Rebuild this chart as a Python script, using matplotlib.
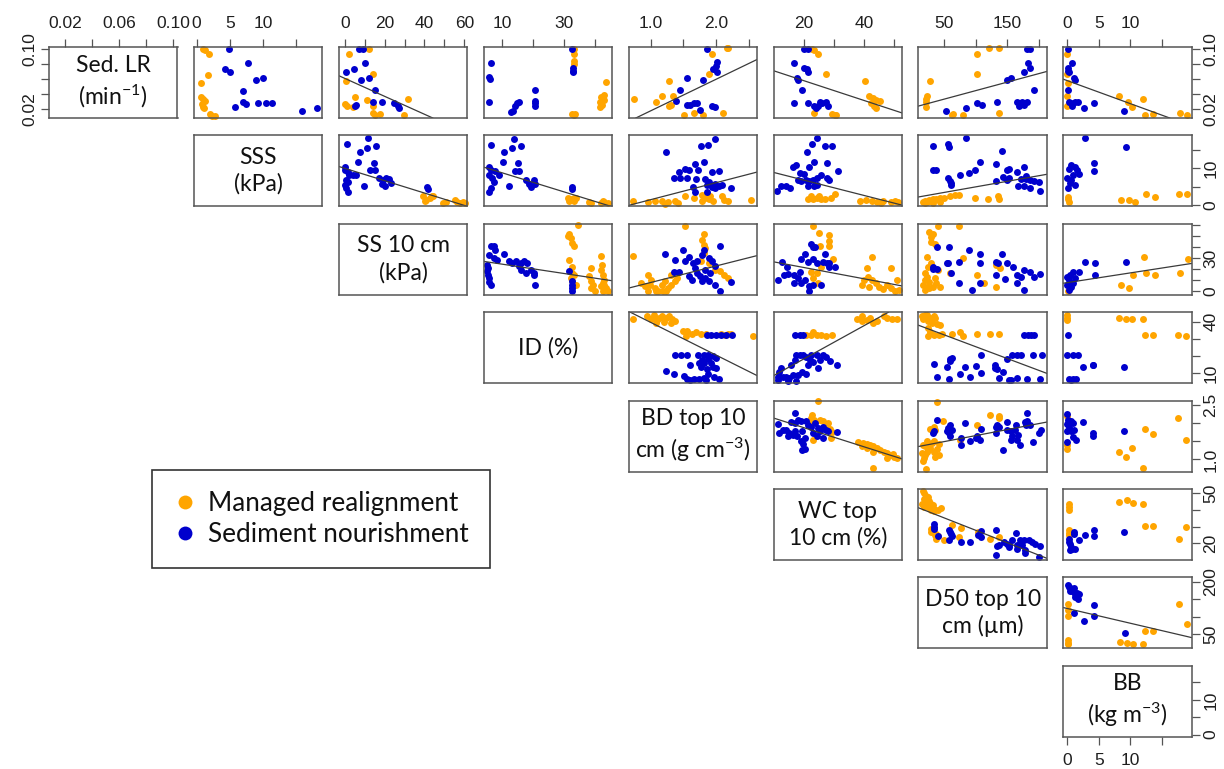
import matplotlib
matplotlib.use("Agg")
import matplotlib.pyplot as plt
from matplotlib.lines import Line2D

plt.rcParams["mathtext.fontset"] = "custom"
plt.rcParams["mathtext.rm"] = "Lato"
plt.rcParams["mathtext.default"] = "regular"
plt.rcParams["font.family"] = ["Liberation Sans", "DejaVu Sans"]

ORANGE = "#FFA500"
BLUE = "#0000CD"

# variables in the order of the pairs matrix
var_names = ["sedlr", "sss", "ss10", "id", "bd", "wc", "d50", "bb"]
var_labels = ["Sed. LR\n(min$^{-1}$)", "SSS\n(kPa)", "SS 10 cm\n(kPa)", "ID (%)",
              "BD top 10\ncm (g cm$^{-3}$)", "WC top\n10 cm (%)",
              "D50 top 10\ncm (\u00b5m)", "BB\n(kg m$^{-3}$)"]
var_ticks = [[0.02, 0.04, 0.06, 0.08, 0.10], [0, 5, 10, 15], [0, 10, 20, 30, 40, 50, 60],
             [10, 20, 30, 40], [1.0, 1.5, 2.0, 2.5], [20, 30, 40, 50],
             [50, 100, 150, 200], [0, 5, 10, 15]]
top_labels = [["0.02", "", "0.06", "", "0.10"], ["0", "5", "10", ""],
              ["0", "", "20", "", "40", "", "60"], ["10", "", "30", ""],
              ["1.0", "", "2.0", ""], ["20", "", "40", ""], ["50", "", "150", ""],
              ["0", "5", "10", ""]]
side_labels = [["0.02", "", "", "", "0.10"], ["0", "", "10", ""],
               ["0", "", "", "30", "", "", ""], ["10", "", "", "40"],
               ["1.0", "", "", "2.5"], ["20", "", "", "50"], ["50", "", "", "200"],
               ["0", "", "10", ""]]

# ---- row 0: Sed. LR ----
mr_sss_sedlr = [(0.95, 0.100), (1.3, 0.099), (1.8, 0.093), (1.7, 0.066), (0.6, 0.055), (0.7, 0.036), (1.0, 0.034), (1.3, 0.031), (0.8, 0.027), (0.9, 0.023), (1.1, 0.022), (2.0, 0.013), (2.3, 0.011), (2.7, 0.011)]
sn_sss_sedlr = [(4.8, 0.100), (7.8, 0.081), (4.2, 0.074), (5.0, 0.069), (8.9, 0.059), (10.0, 0.061), (7.0, 0.044), (7.0, 0.029), (7.5, 0.027), (9.2, 0.028), (10.5, 0.028), (11.3, 0.028), (5.7, 0.023), (15.8, 0.018), (18.1, 0.021)]
mr_ss10_sedlr = [(12.4, 0.100), (2.1, 0.093), (14.4, 0.067), (0.5, 0.057), (5.2, 0.036), (11.3, 0.032), (31.8, 0.033), (0.2, 0.027), (1.1, 0.024), (4.0, 0.023), (14.4, 0.024), (14.4, 0.015), (17.5, 0.014), (15.4, 0.012), (29.8, 0.012)]
sn_ss10_sedlr = [(7.2, 0.100), (9.3, 0.100), (10.3, 0.082), (0.7, 0.070), (4.6, 0.074), (7.9, 0.059), (12.4, 0.062), (15.4, 0.046), (14.4, 0.030), (18.5, 0.030), (24.6, 0.028), (26.7, 0.024), (27.3, 0.021), (5.2, 0.024), (5.6, 0.025)]
mr_id_sedlr = [(33.1, 0.100), (33.3, 0.093), (33.3, 0.084), (33.1, 0.080), (43.6, 0.056), (42.9, 0.039), (41.9, 0.036), (42.9, 0.032), (41.6, 0.030), (42.2, 0.025), (41.6, 0.023), (32.5, 0.013), (33.1, 0.012), (33.6, 0.014)]
sn_id_sedlr = [(32.5, 0.100), (6.4, 0.082), (32.9, 0.075), (32.9, 0.071), (32.9, 0.069), (5.8, 0.063), (6.0, 0.060), (20.5, 0.045), (20.5, 0.031), (20.5, 0.028), (20.5, 0.024), (15.6, 0.030), (14.9, 0.028), (14.3, 0.024), (13.6, 0.018), (13.0, 0.016), (5.8, 0.030)]
mr_bd_sedlr = [(0.745, 0.033), (1.08, 0.030), (1.17, 0.037), (1.28, 0.057), (1.28, 0.024), (1.32, 0.025), (1.34, 0.038), (1.51, 0.012), (1.67, 0.015), (1.80, 0.012), (1.90, 0.067), (1.94, 0.094), (2.11, 0.015), (2.16, 0.101), (2.18, 0.101)]
sn_bd_sedlr = [(1.39, 0.031), (1.45, 0.045), (1.55, 0.061), (1.56, 0.025), (1.60, 0.026), (1.67, 0.028), (1.71, 0.028), (1.75, 0.019), (1.80, 0.059), (1.86, 0.100), (1.95, 0.074), (2.00, 0.077), (2.02, 0.069), (2.01, 0.083), (1.94, 0.024), (1.99, 0.023)]
mr_wc_sedlr = [(22.7, 0.100), (23.3, 0.099), (24.7, 0.094), (27.3, 0.067), (40.4, 0.057), (41.6, 0.038), (43.1, 0.035), (44.0, 0.032), (42.4, 0.028), (45.4, 0.031), (43.4, 0.024), (44.0, 0.022), (23.3, 0.015), (29.3, 0.014), (30.4, 0.012), (30.9, 0.012)]
sn_wc_sedlr = [(16.7, 0.082), (17.7, 0.061), (18.3, 0.059), (20.3, 0.075), (21.1, 0.073), (21.6, 0.069), (19.6, 0.045), (16.9, 0.028), (21.6, 0.028), (23.3, 0.024), (24.0, 0.022), (24.7, 0.024), (25.3, 0.030), (26.0, 0.028), (27.6, 0.030), (28.0, 0.024), (20.3, 0.100), (21.3, 0.100)]
mr_d50_sedlr = [(21.4, 0.033), (22.6, 0.037), (20.1, 0.030), (21.4, 0.023), (26.5, 0.057), (61.5, 0.012), (62.8, 0.014), (80.0, 0.012), (101, 0.093), (101, 0.067), (120, 0.101), (136, 0.101), (137, 0.015)]
sn_d50_sedlr = [(53.2, 0.018), (83.8, 0.022), (101, 0.028), (109, 0.026), (133, 0.030), (149, 0.059), (155, 0.061), (165, 0.030), (168, 0.024), (174, 0.030), (181, 0.030), (177, 0.069), (182, 0.082), (186, 0.075), (181, 0.100), (186, 0.100), (192, 0.045), (177, 0.025)]
mr_bb_sedlr = [(0.0, 0.093), (0.0, 0.067), (0.1, 0.055), (0.0, 0.037), (0.0, 0.024), (8.3, 0.037), (9.6, 0.030), (10.3, 0.023), (12.1, 0.033), (12.4, 0.012), (13.7, 0.014), (17.9, 0.015), (19.1, 0.012)]
sn_bb_sedlr = [(0.1, 0.100), (0.8, 0.082), (0.1, 0.075), (0.1, 0.071), (0.3, 0.069), (1.0, 0.061), (1.3, 0.059), (0.1, 0.046), (0.3, 0.030), (0.6, 0.028), (0.8, 0.024), (1.3, 0.030), (1.7, 0.030), (2.6, 0.022), (4.2, 0.028), (9.1, 0.018)]

# ---- row 1: SSS ----
mr_ss10_sss = [(39.3, 2.3), (40.9, 1.4), (42.6, 1.8), (44.3, 2.3), (40.1, 1.1), (49.4, 0.5), (51.0, 0.9), (56.1, 0.9), (57.8, 0.5), (59.5, 0.7), (60.3, 0.5), (55.3, 1.4), (44.0, 2.5)]
sn_ss10_sss = [(0.9, 16.5), (11.5, 18.3), (7.6, 14.5), (11.1, 15.6), (15.7, 15.9), (6.4, 11.8), (14.5, 11.4), (15.4, 9.4), (12.7, 9.4), (0.2, 10.4), (0.3, 9.4), (1.4, 8.9), (2.2, 8.1), (3.9, 8.1), (5.6, 8.1), (0.5, 6.7), (1.4, 6.3), (0.3, 5.4), (0.5, 4.5), (1.4, 3.6), (9.8, 5.2), (17.4, 7.2), (19.1, 6.7), (20.7, 7.2), (22.4, 7.0), (18.7, 5.8), (20.4, 5.1), (23.3, 6.0), (41.3, 4.9), (41.8, 4.3)]
mr_id_sss = [(31.1, 1.8), (32.2, 1.6), (33.3, 1.8), (33.8, 2.0), (31.7, 1.1), (33.3, 1.1), (38.1, 0.9), (38.7, 0.5), (42.5, 1.1), (43.0, 0.7), (44.1, 0.5), (41.9, 0.5)]
sn_id_sss = [(6.3, 16.3), (13.8, 18.0), (13.1, 15.6), (16.0, 15.9), (10.8, 14.5), (10.4, 11.6), (15.1, 11.3), (5.7, 10.3), (6.6, 9.4), (7.7, 9.1), (9.0, 8.1), (5.9, 8.1), (6.8, 7.2), (7.3, 6.3), (6.3, 4.5), (5.9, 3.6), (12.2, 5.1), (14.1, 9.1), (15.4, 9.1), (17.6, 6.7), (18.7, 5.8), (19.2, 4.9), (20.3, 6.7), (20.6, 5.8), (32.7, 4.9), (32.5, 4.3)]
mr_bd_sss = [(0.73, 1.1), (0.96, 0.9), (1.07, 1.1), (1.17, 1.1), (1.27, 0.9), (1.37, 1.1), (1.42, 0.5), (1.22, 0.2), (1.52, 2.3), (1.67, 1.8), (1.78, 2.7), (1.83, 2.0), (1.89, 1.6), (1.91, 2.5), (2.09, 2.3), (2.12, 1.4), (2.19, 1.1), (2.54, 1.4), (1.79, 1.1), (1.96, 1.1)]
sn_bd_sss = [(1.99, 18.0), (1.87, 16.2), (1.77, 15.9), (1.23, 14.5), (1.68, 11.2), (1.81, 11.6), (1.53, 9.8), (1.58, 9.4), (1.43, 8.9), (1.72, 9.4), (1.94, 8.9), (1.36, 7.3), (1.45, 7.2), (1.55, 7.3), (1.69, 7.0), (1.83, 7.0), (1.89, 6.3), (1.99, 5.8), (2.05, 9.1), (1.65, 4.9), (1.86, 5.4), (1.94, 4.9), (1.99, 4.5), (2.04, 5.2), (2.09, 5.4), (2.23, 4.7), (1.68, 3.6), (1.86, 3.6)]
mr_wc_sss = [(21.6, 1.7), (23.2, 1.5), (24.5, 2.0), (25.8, 1.5), (27.1, 1.7), (29.0, 2.0), (30.3, 2.9), (22.6, 2.4), (25.1, 2.4), (38.7, 1.1), (40.7, 1.3), (42.6, 1.1), (44.5, 0.9), (46.5, 1.1), (49.1, 0.8), (51.4, 0.7), (45.8, 0.5), (50.4, 1.1)]
sn_wc_sss = [(24.5, 18.3), (22.8, 16.5), (27.1, 16.1), (29.4, 16.1), (21.0, 14.5), (23.6, 11.7), (27.7, 11.4), (21.9, 10.4), (31.4, 9.3), (17.4, 10.8), (16.5, 10.4), (18.7, 8.6), (20.2, 8.4), (18.3, 6.8), (19.3, 6.4), (20.9, 6.8), (21.9, 6.4), (23.2, 6.8), (24.5, 7.3), (25.8, 8.2), (27.7, 7.3), (28.4, 6.8), (11.3, 3.7), (12.6, 5.1), (14.1, 5.2), (15.4, 4.6), (21.3, 5.1), (23.5, 5.1), (24.5, 5.3)]
mr_d50_sss = [(15.9, 0.7), (19.0, 1.1), (22.0, 0.8), (25.0, 1.3), (28.1, 1.1), (32.3, 1.5), (37.2, 1.7), (43.3, 2.0), (49.4, 1.8), (58.6, 2.4), (66.5, 2.6), (73.7, 2.6), (98, 2.0), (119, 1.5), (135, 2.4), (136, 1.5), (19.0, 0.5), (31.1, 0.5), (43.3, 0.8)]
sn_d50_sss = [(32.3, 16.1), (55.5, 16.5), (57.3, 15.8), (84.1, 18.3), (31.1, 9.5), (37.2, 9.5), (55.5, 7.3), (58.6, 6.4), (60.4, 5.5), (75, 8.2), (89, 8.6), (98, 9.5), (107, 11.7), (132, 11.2), (141, 14.6), (150, 9.5), (153, 9.9), (165, 9.0), (176, 10.4), (180, 7.9), (192, 6.4), (200, 6.2), (202, 3.7), (150, 6.8), (132, 6.4), (167, 5.1), (60.4, 5.9), (143, 7.7), (152, 7.3), (171, 7.0), (180, 7.0), (186, 6.8), (177, 5.1), (186, 4.6)]
mr_bb_sss = [(0.1, 2.2), (0.1, 1.5), (0.2, 0.8), (8.5, 1.4), (9.8, 1.4), (10.8, 0.8), (12.5, 2.9), (13.9, 2.2), (17.8, 2.9), (19.0, 2.9)]
sn_bb_sss = [(2.8, 18.3), (9.3, 15.8), (0.6, 10.8), (1.2, 10.4), (0.3, 9.7), (1.5, 9.5), (0.0, 7.3), (0.9, 8.2), (1.8, 8.4), (0.5, 5.9), (1.2, 5.5), (0.1, 4.6), (4.3, 11.4), (4.3, 9.3), (0.6, 6.8)]

# ---- row 2: SS 10 cm ----
mr_id_ss10 = [(34.4, 60.3), (31.7, 52.4), (31.1, 50.2), (32.2, 48.7), (32.7, 44.2), (33.3, 41.1), (31.7, 28.9), (32.7, 22.0), (32.5, 16.8), (33.3, 15.3), (32.2, 12.2), (32.7, 9.2), (33.8, 6.2), (38.7, 21.3), (38.1, 13.7), (38.7, 9.2), (39.2, 6.2), (38.7, 3.1), (39.8, 0.0), (41.9, 32.0), (42.3, 24.4), (41.9, 19.8), (42.5, 15.3), (43.0, 10.7), (42.5, 7.6), (43.0, 6.2), (43.6, 3.1), (42.5, 0.0), (44.1, 0.0), (41.9, 4.6)]
sn_id_ss10 = [(6.3, 41.1), (7.3, 41.1), (7.9, 38.1), (5.9, 33.5), (7.3, 30.5), (8.4, 28.9), (10.6, 34.1), (12.2, 27.4), (13.3, 25.9), (14.4, 27.4), (16.0, 25.9), (17.1, 27.4), (18.1, 25.9), (15.4, 22.9), (16.0, 19.8), (19.2, 19.8), (17.6, 16.8), (20.3, 16.8), (20.6, 6.2), (20.3, 15.3), (5.2, 24.4), (5.5, 21.3), (5.2, 18.3), (5.5, 15.3), (5.7, 12.2), (5.9, 8.6), (6.3, 6.2), (32.5, 9.2), (32.7, 6.2), (32.5, 3.1), (32.7, 0.0), (31.7, 18.3)]
mr_bd_ss10 = [(0.73, 32.0), (1.53, 59.4), (1.82, 51.8), (1.78, 47.2), (1.81, 42.6), (1.83, 39.6), (1.81, 35.0), (1.77, 27.4), (1.89, 25.9), (2.06, 18.3), (2.12, 15.3), (2.19, 12.2), (1.98, 19.8), (0.96, 15.3), (1.01, 10.7), (0.99, 6.2), (1.07, 3.1), (1.12, 0.0), (1.17, 6.2), (1.22, 9.2), (1.24, 0.0), (1.27, 3.1), (1.32, 6.2), (1.37, 9.2), (1.40, 12.2), (1.32, 15.3), (1.19, 0.0), (1.09, 0.0), (0.91, 4.6), (0.96, 0.0), (0.86, 7.6)]
sn_bd_ss10 = [(1.22, 34.1), (1.50, 38.1), (1.38, 28.9), (1.36, 17.7), (1.52, 27.4), (1.58, 31.1), (1.65, 25.9), (1.71, 28.0), (1.78, 33.5), (1.82, 38.1), (2.06, 41.1), (1.89, 30.5), (1.94, 27.4), (1.98, 22.9), (1.68, 21.3), (1.71, 16.8), (1.83, 19.8), (1.91, 16.8), (1.58, 13.7), (1.63, 10.7), (1.78, 9.2), (1.89, 9.2), (1.98, 6.2), (2.06, 0.6), (2.23, 8.6), (1.43, 17.7), (1.76, 13.7), (1.83, 12.2)]
mr_wc_ss10 = [(23.2, 59.1), (25.1, 53.1), (28.6, 51.0), (28.4, 45.9), (28.4, 41.1), (25.5, 41.1), (29.7, 29.1), (25.8, 22.5), (24.8, 7.5), (22.6, 18.0), (24.5, 16.5), (23.0, 12.0), (42.6, 31.5), (41.0, 21.0), (49.1, 21.0), (41.3, 13.5), (42.6, 10.5), (43.9, 7.5), (45.2, 4.5), (47.8, 6.0), (49.1, 3.0), (51.0, 10.5), (50.4, 0.9), (51.7, 1.5), (40.0, 10.5), (39.4, 6.0), (41.9, 4.5), (46.5, 2.1)]
sn_wc_ss10 = [(12.8, 27.0), (14.4, 22.5), (22.6, 42.9), (23.2, 40.5), (23.8, 40.5), (20.6, 34.5), (19.3, 29.1), (21.3, 27.0), (23.2, 29.1), (24.5, 26.1), (26.4, 27.0), (27.7, 26.1), (28.4, 22.5), (30.3, 22.5), (28.4, 26.1), (27.1, 34.5), (11.6, 10.5), (13.5, 15.0), (14.8, 15.9), (16.7, 15.0), (18.0, 12.0), (19.3, 7.5), (16.7, 7.5), (20.6, 10.5), (21.9, 5.1), (23.2, 6.0), (25.8, 6.0), (21.9, 0.0), (18.7, 18.0)]
mr_d50_ss10 = [(25.0, 54.0), (32.3, 52.5), (28.1, 49.5), (28.1, 45.0), (34.2, 42.9), (40.3, 59.1), (73.7, 59.1), (22.0, 31.5), (23.8, 22.5), (28.1, 25.5), (19.0, 16.5), (22.0, 13.5), (19.0, 10.5), (25.0, 9.0), (15.9, 6.0), (22.0, 4.5), (19.0, 1.5), (25.0, 3.0), (31.1, 4.5), (37.2, 7.5), (34.2, 12.0), (40.3, 19.5), (58.6, 16.5), (79.8, 30.0), (101, 15.0), (113, 7.5), (132, 24.0), (138, 21.0), (132, 4.5), (43.3, 4.5)]
sn_d50_ss10 = [(38.4, 40.5), (57.3, 40.5), (32.3, 22.5), (32.3, 20.1), (38.4, 20.1), (54.3, 26.1), (55.5, 26.0), (60.4, 16.5), (73.7, 27.0), (89, 37.5), (107, 33.9), (107, 26.1), (132, 27.0), (141, 33.9), (135, 26.0), (150, 26.1), (159, 22.5), (165, 15.0), (171, 13.5), (177, 19.5), (186, 18.0), (192, 13.5), (202, 15.9), (177, 1.5), (132, 15.0), (147, 11.1), (165, 7.5), (107, 7.5), (93, 1.5), (73.7, 7.5)]
mr_bb_ss10 = [(0.1, 0.0), (0.3, 4.5), (8.5, 6.0), (9.8, 3.0), (10.5, 15.0), (12.2, 31.5), (12.5, 17.1), (13.9, 15.0), (17.9, 17.1), (19.2, 29.1)]
sn_bb_ss10 = [(2.8, 27.0), (4.4, 25.5), (9.3, 27.0), (4.4, 15.0), (1.8, 18.0), (0.9, 18.0), (0.5, 15.0), (0.0, 13.5), (0.3, 10.5), (0.9, 7.5), (0.0, 6.0), (0.6, 4.5), (1.2, 12.0), (0.3, 1.5)]

# ---- row 3: ID ----
mr_bd_id = [(0.73, 41.3), (0.95, 43.2), (1.00, 41.7), (1.05, 43.6), (1.08, 39.4), (1.13, 42.3), (1.18, 43.2), (1.23, 42.3), (1.28, 43.2), (1.33, 41.7), (1.38, 40.4), (1.20, 39.8), (1.31, 39.4), (1.10, 40.9), (1.50, 34.6), (1.56, 34.6), (1.64, 32.7), (1.69, 33.7), (1.77, 32.7), (1.84, 32.7), (2.07, 32.7), (2.13, 32.1), (2.18, 32.7), (2.23, 32.7), (2.56, 31.8), (1.54, 31.8)]
sn_bd_id = [(1.86, 32.1), (1.92, 32.1), (2.00, 32.1), (2.07, 32.1), (2.15, 32.1), (2.25, 32.1), (1.38, 20.3), (1.46, 20.3), (1.56, 20.3), (1.72, 20.3), (1.81, 20.7), (1.88, 20.3), (1.95, 19.9), (2.00, 18.8), (1.79, 17.5), (1.82, 16.1), (1.74, 16.1), (1.88, 18.0), (1.92, 16.1), (1.61, 14.6), (1.77, 13.6), (1.95, 13.6), (1.86, 12.3), (2.00, 13.1), (1.23, 11.2), (1.36, 9.2), (1.51, 8.5), (1.56, 6.6), (1.61, 6.0), (1.66, 6.6), (1.74, 6.6), (1.82, 7.3), (1.88, 9.2), (2.05, 6.6), (1.97, 7.9), (1.84, 6.0)]
mr_wc_id = [(22.6, 32.1), (24.3, 32.1), (25.9, 32.1), (27.6, 31.8), (29.3, 32.1), (20.9, 32.1), (37.9, 41.7), (39.3, 43.2), (41.0, 40.9), (42.1, 42.3), (43.2, 39.4), (46.6, 43.2), (47.7, 42.3), (49.4, 41.7), (51.0, 41.7), (44.3, 40.4), (23.2, 33.7), (39.3, 40.4)]
sn_wc_id = [(17.0, 32.1), (18.7, 32.1), (19.8, 32.1), (18.7, 20.3), (19.8, 20.7), (20.9, 19.4), (22.6, 20.7), (24.3, 20.3), (25.4, 17.5), (26.5, 20.3), (27.6, 19.4), (28.7, 16.9), (31.0, 15.0), (22.0, 17.5), (23.2, 16.7), (21.5, 14.6), (24.8, 13.1), (17.6, 20.3), (17.0, 17.5), (15.9, 15.0), (12.6, 13.1), (11.8, 10.8), (11.5, 7.9), (13.1, 7.9), (14.2, 7.9), (15.3, 7.0), (16.5, 8.9), (18.1, 8.9), (19.6, 10.8), (20.9, 9.2), (17.6, 5.4), (14.8, 5.4), (11.5, 6.0)]
mr_d50_id = [(13.9, 43.2), (19.2, 43.6), (27.2, 42.3), (35.2, 42.3), (16.6, 41.3), (24.6, 40.4), (29.9, 39.4), (37.9, 38.4), (43.3, 37.9), (24.6, 36.5), (27.2, 33.7), (24.6, 31.8), (32.6, 32.1), (40.6, 32.1), (45.9, 32.7), (61.9, 32.7), (74.1, 34.1), (79.4, 31.4), (101.8, 32.7), (121.6, 32.7), (136.5, 32.7), (22.9, 43.6), (32.6, 43.2)]
sn_d50_id = [(176, 32.1), (182, 32.1), (187, 32.1), (192, 32.1), (108, 20.3), (150, 18.0), (158, 20.3), (166, 20.3), (171, 20.3), (191, 20.3), (205, 20.3), (32.6, 15.5), (53.9, 13.6), (59.2, 18.4), (58.2, 16.9), (61.9, 18.8), (83.3, 13.6), (100.8, 14.2), (131, 15.0), (131, 12.7), (143, 10.8), (108, 9.8), (75.1, 9.2), (90, 7.9), (37.9, 7.9), (56.5, 6.6), (136.5, 7.3), (152, 6.0), (155, 6.0), (166, 7.0), (181, 6.6), (202, 6.6), (133, 12.3)]
mr_bb_id = [(0.0, 43.6), (0.0, 42.3), (0.0, 40.9), (8.2, 42.3), (9.4, 41.7), (10.3, 41.7), (12.0, 41.7), (12.3, 32.1), (13.6, 32.1), (17.6, 32.1), (18.9, 31.4)]
sn_bb_id = [(0.1, 32.1), (0.0, 20.3), (0.9, 20.3), (1.7, 20.3), (2.5, 13.6), (4.1, 14.6), (4.1, 15.0), (9.0, 13.3), (0.3, 6.6), (0.9, 6.6), (1.4, 6.6), (0.6, 6.0)]

# ---- row 4: BD ----
mr_wc_bd = [(24.8, 2.61), (22.9, 2.22), (22.6, 2.15), (22.0, 2.05), (23.4, 2.10), (25.4, 2.10), (26.5, 2.05), (28.2, 2.01), (27.6, 1.89), (28.7, 1.85), (29.3, 1.76), (29.0, 1.59), (23.2, 1.54), (38.2, 1.48), (39.9, 1.45), (41.0, 1.42), (42.1, 1.41), (43.2, 1.36), (44.3, 1.31), (45.4, 1.27), (46.6, 1.22), (47.7, 1.17), (48.8, 1.13), (49.9, 1.08), (51.0, 1.04), (39.3, 1.36), (41.0, 1.31), (43.0, 1.22), (43.2, 0.76), (49.7, 1.15), (47.7, 1.04)]
sn_wc_bd = [(11.5, 1.98), (11.8, 1.73), (13.1, 1.82), (14.2, 1.82), (15.3, 1.73), (16.5, 1.68), (17.0, 1.79), (17.8, 1.66), (19.6, 1.78), (20.4, 1.59), (19.3, 1.52), (19.8, 1.42), (20.4, 1.30), (19.6, 1.27), (15.9, 2.04), (17.0, 2.01), (18.1, 2.10), (19.3, 2.05), (20.9, 2.05), (21.5, 1.96), (22.6, 1.91), (23.7, 2.01), (24.8, 1.87), (25.4, 1.79), (26.5, 1.91), (27.6, 1.82), (28.2, 1.78), (31.0, 1.76), (26.5, 1.59), (14.8, 1.64), (24.3, 1.64), (23.2, 1.73), (17.3, 2.29)]
mr_d50_bd = [(38.9, 2.59), (17.7, 1.04), (20.8, 0.74), (15.5, 0.96), (19.2, 1.13), (24.6, 1.27), (27.2, 1.31), (32.6, 1.22), (37.9, 1.30), (40.6, 1.11), (35.2, 1.08), (21.9, 1.22), (13.9, 1.17), (19.2, 1.36), (24.6, 1.41), (29.9, 1.45), (32.6, 1.50), (40.6, 1.42), (27.2, 1.85), (32.6, 1.91), (35.2, 1.82), (47.5, 2.07), (74.1, 1.54), (101.8, 1.96), (122.1, 2.22), (136.5, 2.19), (136.5, 2.15), (16.6, 1.41), (21.9, 1.50)]
sn_d50_bd = [(32.6, 1.78), (31.5, 1.73), (37.9, 2.10), (53.9, 1.78), (54.9, 1.87), (56.5, 1.73), (59.2, 1.96), (61.9, 1.82), (59.2, 1.64), (76.2, 1.59), (76.2, 1.41), (83.3, 2.01), (90, 1.52), (101.8, 1.64), (108.2, 1.85), (100.8, 1.59), (107.1, 1.54), (131.2, 1.91), (133.8, 1.94), (136.5, 1.91), (132.6, 1.73), (143.4, 1.27), (149.8, 2.04), (149.8, 1.82), (155.1, 1.79), (157.7, 1.64), (161.4, 1.82), (163.1, 1.96), (166.8, 1.68), (170, 1.41), (178, 2.04), (179.1, 1.94), (181.8, 2.07), (181.8, 2.29), (185.9, 1.96), (191.4, 1.48), (200.4, 1.73), (203, 1.82), (165.7, 1.54), (155.1, 1.54)]
mr_bb_bd = [(0.0, 2.19), (0.0, 1.41), (0.0, 1.30), (8.2, 1.20), (9.4, 1.08), (10.3, 1.31), (12.0, 0.76), (12.3, 1.85), (13.6, 1.70), (17.6, 2.15), (18.9, 1.54)]
sn_bb_bd = [(0.0, 2.26), (0.1, 2.10), (0.2, 2.04), (0.6, 2.05), (0.0, 1.98), (0.9, 2.01), (0.3, 1.89), (0.0, 1.78), (0.6, 1.78), (1.1, 1.82), (0.9, 1.61), (1.4, 1.54), (0.0, 1.48), (2.5, 2.04), (4.1, 1.73), (4.1, 1.64), (9.0, 1.79)]

# ---- row 5: WC ----
mr_d50_wc = [(15.5, 51.7), (18.0, 50.1), (20.7, 48.7), (23.3, 47.7), (18.0, 46.7), (26.0, 45.7), (28.6, 43.8), (31.2, 42.8), (20.7, 44.8), (23.3, 41.8), (33.9, 40.8), (39.0, 40.2), (44.3, 41.4), (13.9, 43.8), (17.0, 41.8), (28.6, 39.8), (32.9, 39.4), (28.6, 28.9), (36.5, 25.9), (39.0, 24.3), (36.5, 22.9), (48.6, 21.9), (62.7, 30.8), (75.9, 29.5), (73.3, 23.9), (103.3, 26.9), (122.2, 22.9), (136.4, 23.9), (28.6, 26.9), (34.9, 24.9)]
sn_d50_wc = [(32.8, 31.5), (33.9, 29.9), (32.8, 28.9), (40.2, 24.3), (57.6, 28.3), (59.1, 26.9), (60.2, 25.5), (57.6, 22.3), (62.7, 24.3), (75.9, 20.9), (90.1, 20.9), (103.8, 24.9), (107.5, 23.9), (108.5, 27.5), (132.7, 27.9), (136.4, 18.9), (131.2, 13.0), (144.3, 20.9), (149.6, 19.9), (152.2, 18.9), (157.4, 21.9), (164.3, 26.3), (165.3, 16.9), (170.6, 21.9), (173.2, 18.9), (176.9, 21.9), (178.4, 16.0), (178.4, 14.0), (183.7, 21.9), (189, 20.9), (194.2, 19.9), (202.1, 18.3), (200.5, 12.0), (152.2, 17.9), (133.7, 18.3), (165.3, 18.9)]
mr_bb_wc = [(0.2, 43.4), (0.2, 41.8), (0.2, 40.2), (0.2, 27.9), (0.2, 26.3), (0.2, 24.9), (8.3, 44.8), (9.5, 46.3), (10.4, 44.2), (12.1, 43.4), (12.4, 30.3), (13.7, 30.3), (17.7, 22.9), (18.9, 29.9)]
sn_bb_wc = [(0.3, 22.9), (0.3, 20.9), (0.5, 19.9), (0.6, 17.9), (0.8, 16.9), (0.4, 16.0), (1.3, 16.9), (1.9, 21.9), (1.1, 26.9), (1.0, 25.5), (2.8, 24.9), (4.3, 27.9), (4.3, 24.3), (9.1, 26.9)]

# ---- row 6: D50 ----
mr_bb_d50 = [(0.1, 137), (0.1, 119), (0.1, 103), (0.1, 32), (0.1, 25), (0.1, 21), (8.4, 27), (9.5, 23), (10.4, 21), (12.1, 21), (12.4, 60), (13.7, 60), (17.8, 137), (19.0, 79)]
sn_bb_d50 = [(0.1, 192), (0.2, 184), (0.5, 181), (0.8, 175), (1.0, 183), (1.3, 166), (1.6, 168), (1.3, 156), (1.7, 152), (1.8, 164), (1.1, 109), (2.7, 86), (4.3, 133), (4.3, 103), (9.2, 54), (0.4, 175)]

panels = {
    (0, 1): (mr_sss_sedlr, sn_sss_sedlr), (0, 2): (mr_ss10_sedlr, sn_ss10_sedlr),
    (0, 3): (mr_id_sedlr, sn_id_sedlr), (0, 4): (mr_bd_sedlr, sn_bd_sedlr),
    (0, 5): (mr_wc_sedlr, sn_wc_sedlr), (0, 6): (mr_d50_sedlr, sn_d50_sedlr),
    (0, 7): (mr_bb_sedlr, sn_bb_sedlr),
    (1, 2): (mr_ss10_sss, sn_ss10_sss), (1, 3): (mr_id_sss, sn_id_sss),
    (1, 4): (mr_bd_sss, sn_bd_sss), (1, 5): (mr_wc_sss, sn_wc_sss),
    (1, 6): (mr_d50_sss, sn_d50_sss), (1, 7): (mr_bb_sss, sn_bb_sss),
    (2, 3): (mr_id_ss10, sn_id_ss10), (2, 4): (mr_bd_ss10, sn_bd_ss10),
    (2, 5): (mr_wc_ss10, sn_wc_ss10), (2, 6): (mr_d50_ss10, sn_d50_ss10),
    (2, 7): (mr_bb_ss10, sn_bb_ss10),
    (3, 4): (mr_bd_id, sn_bd_id), (3, 5): (mr_wc_id, sn_wc_id),
    (3, 6): (mr_d50_id, sn_d50_id), (3, 7): (mr_bb_id, sn_bb_id),
    (4, 5): (mr_wc_bd, sn_wc_bd), (4, 6): (mr_d50_bd, sn_d50_bd),
    (4, 7): (mr_bb_bd, sn_bb_bd),
    (5, 6): (mr_d50_wc, sn_d50_wc), (5, 7): (mr_bb_wc, sn_bb_wc),
    (6, 7): (mr_bb_d50, sn_bb_d50),
}

# fitted lines (intercept, slope) for the significant pairs
fits = {
    (0, 2): (0.061, -0.0012), (0, 4): (-0.0248, 0.0423), (0, 5): (0.0845, -0.001323),
    (0, 6): (0.022, 0.000227), (0, 7): (0.058, -0.00307),
    (1, 2): (9.95, -0.168), (1, 3): (11.34, -0.26), (1, 4): (-3.20, 4.62),
    (1, 5): (10.93, -0.2084), (1, 6): (1.9, 0.0302),
    (2, 3): (29.1, -0.425), (2, 4): (-6.9, 15.04), (2, 5): (32.1, -0.513),
    (2, 7): (8.06, 0.881),
    (3, 4): (58.7, -19.1), (3, 5): (-1.2, 0.969), (3, 6): (39.1, -0.1376),
    (4, 5): (2.41, -0.02644), (4, 6): (1.33, 0.00331),
    (5, 6): (42.7, -0.1489), (6, 7): (123.4, -4.234),
}

# axis limits for each variable
limits = [(0.008, 0.103), (-0.4, 18.9), (-3, 61.5), (4.1, 45.5),
          (0.665, 2.627), (10, 52.7), (8.6, 212.8), (-0.63, 19.8)]

W, H = 1224, 769
fig = plt.figure(figsize=(W / 100, H / 100), dpi=100)

FRAME = "#555555"
TXT = "#1f1f1f"
n = len(var_names)

for i in range(n):
    for j in range(i, n):
        left = 49 + 144.9 * j
        top = 47 + 88.4 * i
        ax = fig.add_axes([left / W, 1 - (top + 71) / H, 128.5 / W, 71 / H])
        for s in ax.spines.values():
            s.set_color(FRAME)
            s.set_linewidth(1.1)
        ax.tick_params(which="both", bottom=False, top=False, left=False, right=False,
                       labelbottom=False, labeltop=False, labelleft=False, labelright=False,
                       direction="out", length=5.5, width=0.9, color=FRAME,
                       labelsize=12.5, labelcolor=TXT)
        ax.tick_params(axis="x", pad=6)
        ax.tick_params(axis="y", pad=3)
        ax.set_xticks([])
        ax.set_yticks([])

        if i == j:
            ax.text(0.5, 0.5, var_labels[i], transform=ax.transAxes, ha="center",
                    va="center", fontsize=16.5, family="Lato", color="#111111",
                    linespacing=1.3)
        else:
            mr, sn = panels[(i, j)]
            ax.plot([p[0] for p in mr], [p[1] for p in mr], "o", color=ORANGE,
                    ms=5.0, mec="none", clip_on=False)
            ax.plot([p[0] for p in sn], [p[1] for p in sn], "o", color=BLUE,
                    ms=5.0, mec="none", clip_on=False)
            if (i, j) in fits:
                a, b = fits[(i, j)]
                ax.axline((0, a), slope=b, color="#3a3a3a", lw=0.9)

        # outer axes, pairs-plot style
        if i == 0:
            ax.set_xticks(var_ticks[j], top_labels[j])
            ax.tick_params(axis="x", top=True, labeltop=True)
        if j == n - 1:
            ax.set_yticks(var_ticks[i], side_labels[i])
            ax.tick_params(axis="y", right=True, labelright=True, labelrotation=90)
            for lab in ax.get_yticklabels():
                lab.set_va("center")
        if i == 0 and j == 0:
            ax.set_yticks(var_ticks[0], side_labels[0])
            ax.tick_params(axis="y", left=True, labelleft=True, labelrotation=90)
            for lab in ax.get_yticklabels():
                lab.set_va("center")
        if i == n - 1 and j == n - 1:
            ax.set_xticks(var_ticks[j], top_labels[j])
            ax.tick_params(axis="x", bottom=True, labelbottom=True)
        ax.set_xlim(limits[j])
        ax.set_ylim(limits[i])

handles = [Line2D([], [], ls="", marker="o", color=ORANGE, ms=10, mec="none",
                  label="Managed realignment"),
           Line2D([], [], ls="", marker="o", color=BLUE, ms=10, mec="none",
                  label="Sediment nourishment")]
leg = fig.legend(handles=handles, loc="upper left",
                 bbox_to_anchor=(152 / W, 1 - 470 / H), frameon=True, fancybox=False,
                 edgecolor="#333333", framealpha=1, prop={"family": "Lato", "size": 18.8},
                 handlelength=0.9, handletextpad=0.45, borderpad=0.8,
                 labelspacing=0.25, borderaxespad=0)
leg.get_frame().set_linewidth(1.2)
for t in leg.get_texts():
    t.set_color("#111111")

fig.savefig("out.png", dpi=100)
